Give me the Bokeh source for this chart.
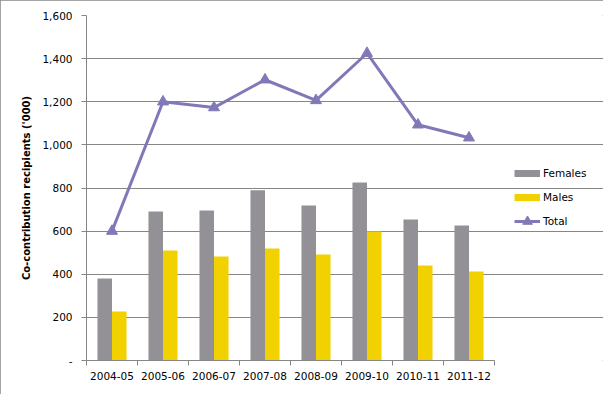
import numpy as np
from bokeh.plotting import figure
from bokeh.models import (ColumnDataSource, FixedTicker, NumeralTickFormatter,
                          Legend, LegendItem, Range1d)
from bokeh.embed import file_html
from bokeh.resources import INLINE

years = ["2004-05", "2005-06", "2006-07", "2007-08", "2008-09", "2009-10", "2010-11", "2011-12"]
females = [380, 691, 696, 790, 719, 826, 654, 626]
males = [227, 510, 482, 519, 492, 598, 441, 413]
total = [600, 1200, 1173, 1302, 1206, 1425, 1093, 1033]
y_ticks = [0, 200, 400, 600, 800, 1000, 1200, 1400, 1600]

GRAY = "#939196"
GOLD = "#F2D100"
PURPLE = "#8079B8"
AXIS = "#868686"
FONT = "DejaVu Sans"

n = len(years)
idx = np.arange(n)
centers = idx + 0.5
bw = 0.285
src = ColumnDataSource(dict(
    xf=centers - bw / 2, xm=centers + bw / 2, xc=centers,
    females=females, males=males, total=total))

# frame spans to the right edge so the legend can sit beside the bars
frame_w = 603 - 86
x_end = n * frame_w / 408.0

p = figure(width=603, height=394, output_backend="svg", toolbar_location=None,
           x_range=Range1d(0, x_end), y_range=Range1d(0, 1600),
           min_border_left=86, min_border_right=0, min_border_top=15,
           min_border_bottom=34)
p.outline_line_color = None
p.styles = {"outline": "1px solid #868686", "outline-offset": "-1px"}

rf = p.vbar(x="xf", top="females", width=bw, source=src, fill_color=GRAY, line_color=None)
rm = p.vbar(x="xm", top="males", width=bw, source=src, fill_color=GOLD, line_color=None)
rl = p.line(x="xc", y="total", source=src, line_color=PURPLE, line_width=3)
rs = p.scatter(x="xc", y="total", source=src, marker="triangle", size=11,
               fill_color=PURPLE, line_color=PURPLE)

# legend-only swatches (thick strokes, as in the original legend); nothing plotted
sw_src = ColumnDataSource(dict(x=[np.nan], y=[np.nan]))
sw_f = p.line(x="x", y="y", source=sw_src, line_color=GRAY, line_width=7)
sw_m = p.line(x="x", y="y", source=sw_src, line_color=GOLD, line_width=7)

# axes
p.xgrid.visible = False
p.ygrid.grid_line_color = AXIS
p.ygrid.grid_line_width = 1
p.ygrid.bounds = (0, n)

xa = p.xaxis[0]
xa.bounds = (0, n)
xa.ticker = FixedTicker(ticks=list(centers), minor_ticks=list(range(n + 1)))
xa.major_label_overrides = {float(c): y for c, y in zip(centers, years)}
xa.major_tick_out = 0
xa.major_tick_in = 0
xa.minor_tick_out = 5
xa.minor_tick_in = 0
xa.minor_tick_line_color = AXIS
xa.axis_line_color = AXIS
xa.major_label_text_font = FONT
xa.major_label_text_font_size = "10.5px"
xa.major_label_text_color = "#000000"
xa.major_label_standoff = 6

ya = p.yaxis[0]
ya.ticker = FixedTicker(ticks=y_ticks)
ya.formatter = NumeralTickFormatter(format="0,0")
ya.major_label_overrides = {0: "-"}
ya.major_tick_out = 5
ya.major_tick_in = 0
ya.minor_tick_out = 0
ya.minor_tick_in = 0
ya.major_tick_line_color = AXIS
ya.axis_line_color = AXIS
ya.major_label_text_font = FONT
ya.major_label_text_font_size = "10.5px"
ya.major_label_text_color = "#000000"
ya.major_label_standoff = 9
ya.axis_label = "Co-contribution recipients ('000)"
ya.axis_label_text_font = FONT
ya.axis_label_text_font_style = "bold"
ya.axis_label_text_font_size = "10px"
ya.axis_label_text_color = "#000000"
ya.axis_label_standoff = 7

legend = Legend(items=[
    LegendItem(label="Females", renderers=[sw_f]),
    LegendItem(label="Males", renderers=[sw_m]),
    LegendItem(label="Total", renderers=[rl, rs]),
], location=(428, 127))
legend.border_line_color = None
legend.background_fill_alpha = 0
legend.padding = 0
legend.margin = 0
legend.spacing = 0
legend.glyph_width = 26
legend.glyph_height = 24
legend.label_height = 24
legend.label_standoff = 3
legend.label_text_font = FONT
legend.label_text_font_size = "10.5px"
legend.label_text_color = "#000000"
p.add_layout(legend, "center")

open("out.html", "w").write(file_html(p, INLINE))
